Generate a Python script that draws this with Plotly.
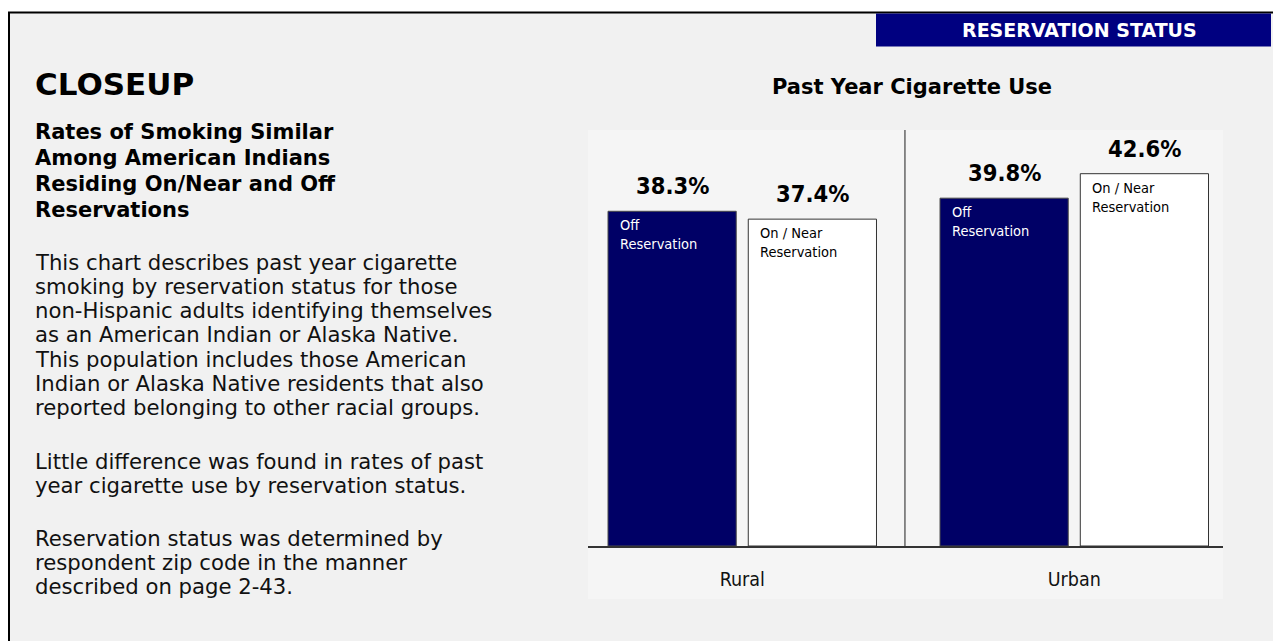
import plotly.graph_objects as go

# ---------------- data ----------------
categories = ["Rural", "Urban"]
off_reservation = [38.3, 39.8]
on_near_reservation = [37.4, 42.6]
series_names = ["Off Reservation", "On / Near Reservation"]
series_inner_labels = ["Off<br>Reservation", "On / Near<br>Reservation"]

chart_title = "Past Year Cigarette Use"
banner_text = "RESERVATION STATUS"
heading = "CLOSEUP"
subtitle_lines = [
    "Rates of Smoking Similar",
    "Among American Indians",
    "Residing On/Near and Off",
    "Reservations",
]
paragraphs = [
    [
        "This chart describes past year cigarette",
        "smoking by reservation status for those",
        "non-Hispanic adults identifying themselves",
        "as an American Indian or Alaska Native.",
        "This population includes those American",
        "Indian or Alaska Native residents that also",
        "reported belonging to other racial groups.",
    ],
    [
        "Little difference was found in rates of past",
        "year cigarette use by reservation status.",
    ],
    [
        "Reservation status was determined by",
        "respondent zip code in the manner",
        "described on page 2-43.",
    ],
]

# ---------------- layout helpers ----------------
W, H = 1273, 641


def px(x):
    return x / W


def py(y):
    return 1 - y / H


NAVY_BAR = "#000066"
NAVY_BOX = "#000080"
NARROW = "Liberation Sans Narrow, Arial Narrow, DejaVu Sans Condensed, sans-serif"
WIDE = "DejaVu Sans, Verdana, sans-serif"

fig = go.Figure()
fig.add_bar(
    x=categories, y=off_reservation, name=series_names[0],
    marker=dict(color=NAVY_BAR, line=dict(color="#4a4a4a", width=1)),
    hoverinfo="skip",
)
fig.add_bar(
    x=categories, y=on_near_reservation, name=series_names[1],
    marker=dict(color="white", line=dict(color="#333333", width=1)),
    hoverinfo="skip",
)

annotations = []
slot_offset = 0.2112
series_values = [off_reservation, on_near_reservation]
for s, vals in enumerate(series_values):
    off = -slot_offset if s == 0 else slot_offset
    fc = "white" if s == 0 else "black"
    for i, v in enumerate(vals):
        annotations.append(dict(
            x=i + off, xref="x", y=v, yref="y", text=f"{v:.1f}%",
            showarrow=False, yanchor="middle", xanchor="center", yshift=25,
            font=dict(family=NARROW, size=23.5, color="black", weight="bold"),
        ))
        annotations.append(dict(
            x=i + off, xref="x", y=v, yref="y", text=series_inner_labels[s],
            showarrow=False, yanchor="top", xanchor="left", align="left",
            xshift=-54, yshift=-4,
            font=dict(family=NARROW, size=14.5, color=fc),
        ))

# chart title
annotations.append(dict(
    x=px(912), y=py(87), xref="paper", yref="paper", text=chart_title,
    showarrow=False, xanchor="center", yanchor="middle",
    font=dict(family=WIDE, size=21, color="black", weight="bold"),
))
# banner text
annotations.append(dict(
    x=px(1079), y=py(30), xref="paper", yref="paper", text=banner_text,
    showarrow=False, xanchor="center", yanchor="middle",
    font=dict(family=WIDE, size=19, color="white", weight="bold"),
))
# heading
annotations.append(dict(
    x=px(33), y=py(84), xref="paper", yref="paper", text=heading,
    showarrow=False, xanchor="left", yanchor="middle",
    font=dict(family=WIDE, size=31, color="black", weight="bold"),
))
# subtitle
for k, line in enumerate(subtitle_lines):
    annotations.append(dict(
        x=px(33), y=py(132 + 26 * k), xref="paper", yref="paper", text=line,
        showarrow=False, xanchor="left", yanchor="middle",
        font=dict(family=WIDE, size=21, color="black", weight="bold"),
    ))
# body paragraphs
para_starts = [262, 461, 538]
for p, lines in enumerate(paragraphs):
    for k, line in enumerate(lines):
        annotations.append(dict(
            x=px(33), y=py(para_starts[p] + 24.3 * k), xref="paper", yref="paper",
            text=line, showarrow=False, xanchor="left", yanchor="middle",
            font=dict(family=WIDE, size=21.2, color="#111111"),
        ))

shapes = [
    # page panel with black top/left border
    dict(type="rect", xref="paper", yref="paper", x0=px(9), x1=1.02, y0=-0.02, y1=py(12.5),
         fillcolor="#f1f1f1", line=dict(color="black", width=2), layer="below"),
    # chart panel
    dict(type="rect", xref="paper", yref="paper", x0=px(588), x1=px(1223), y0=py(599), y1=py(130),
         fillcolor="#f5f5f5", line=dict(width=0), layer="below"),
    # banner
    dict(type="rect", xref="paper", yref="paper", x0=px(876), x1=px(1271), y0=py(46.5), y1=py(13.5),
         fillcolor=NAVY_BOX, line=dict(width=0), layer="above"),
    # divider between groups
    dict(type="line", xref="x", yref="y domain", x0=0.49, x1=0.49, y0=0, y1=1,
         line=dict(color="#666666", width=1.5), layer="below"),
]

fig.update_layout(
    width=W, height=H, autosize=False,
    margin=dict(l=0, r=0, t=0, b=0),
    paper_bgcolor="white", plot_bgcolor="rgba(0,0,0,0)",
    barmode="group", bargap=0.155, bargroupgap=0.086,
    showlegend=False,
    annotations=annotations, shapes=shapes,
    xaxis=dict(
        domain=[px(588), px(1223)], range=[-0.4646, 1.448],
        showline=True, linecolor="#333333", linewidth=1.5,
        ticks="", ticklabelstandoff=15, showgrid=False, zeroline=False,
        tickfont=dict(family=NARROW, size=19.5, color="#111111"),
        fixedrange=True,
    ),
    yaxis=dict(
        domain=[py(546), py(130)], range=[0, 47.6], visible=False,
        fixedrange=True,
    ),
)

fig.write_html("out.html", config={"displayModeBar": False})
